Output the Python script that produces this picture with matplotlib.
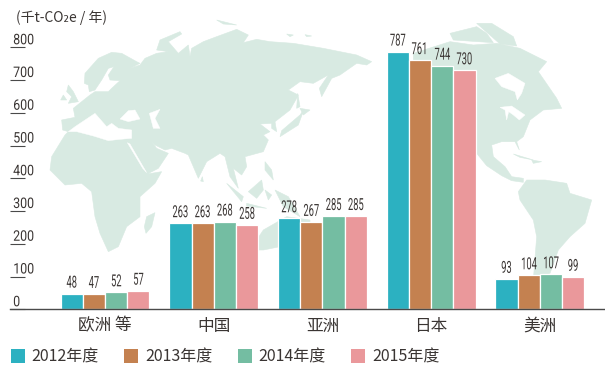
import matplotlib
matplotlib.use("Agg")
import matplotlib.pyplot as plt
from matplotlib.patches import Polygon, Patch
from matplotlib.patheffects import AbstractPathEffect
from matplotlib.transforms import Affine2D
import numpy as np

plt.rcParams['font.family'] = ['Noto Sans CJK SC', 'DejaVu Sans']

categories = ['欧洲 等', '中国', '亚洲', '日本', '美洲']
years = ['2012年度', '2013年度', '2014年度', '2015年度']
v2012 = [48, 263, 278, 787, 93]
v2013 = [47, 263, 267, 761, 104]
v2014 = [52, 268, 285, 744, 107]
v2015 = [57, 258, 285, 730, 99]
y_ticks = [0, 100, 200, 300, 400, 500, 600, 700, 800]
unit_label = '(千t-CO₂e / 年)'
colors = ['#2cb1c1', '#c48150', '#74bda2', '#ea989b']
LAND = '#d8eae2'
INK = '#3a3533'

W, H = 605, 365
fig = plt.figure(figsize=(W / 100, H / 100), dpi=100, facecolor='white')


class Squeeze(AbstractPathEffect):
    """Condense text horizontally (no condensed font is installed)."""
    def __init__(self, sx, pivot='center'):
        super().__init__()
        self.sx, self.pivot = sx, pivot

    def draw_path(self, renderer, gc, tpath, affine, rgbFace=None):
        e = tpath.get_extents()
        px = (e.x0 + e.x1) / 2 if self.pivot == 'center' else e.x0
        t = Affine2D().translate(-px, 0).scale(self.sx, 1).translate(px, 0)
        renderer.draw_path(gc, tpath, t + affine, rgbFace)


# ---- decorative background world map (figure pixel space) ----
bg = fig.add_axes([0, 0, 1, 1], zorder=0)
bg.set_xlim(0, W); bg.set_ylim(H, 0); bg.axis('off')

def z4(p): return [(40 + x / 3, 20 + y / 3) for x, y in p]
def z5(p): return [(200 + x / 3, 20 + y / 3) for x, y in p]
def z6(p): return [(430 + x / 3, 20 + y / 3) for x, y in p]

eurasia_africa = z4([(68,330),(65,300),(105,292),(100,265),(125,245),(150,225),(165,215),(205,215),(215,205),
    (240,182),(210,180),(205,165),(222,140),(205,145),(185,180),(165,210),(148,215),(145,195),(133,190),
    (135,160),(175,115),(215,97),(245,100),(290,125),(300,130),(270,145),(300,135),(315,115),(350,100),
    (385,95),(350,90),(360,60),(420,35),(425,42),(385,65),(415,100),(445,75),(450,110),(455,85),(490,65)]) + \
  z5([(50,50),(110,28),(145,45),(130,68),(170,58),(210,65),(280,70),(370,85),(420,95),(470,105),(515,125),
      (500,135),(470,130),(420,165),(395,175),(365,230),(358,205),(385,165),(340,190),(300,185),(265,210),
      (295,225),(290,235),(270,270),(225,305),(230,335),(215,325),(215,310),(180,312),(210,335),(190,345),
      (205,360),(190,395),(135,410),(140,440),(125,465),(100,445),(115,505),(90,470),(75,410),(60,400)]) + \
  z4([(500,425),(475,475),(445,405),(435,400),(395,385),(375,390),(345,375),(335,365),(350,385),(385,400),
      (355,445),(322,462),(365,455),(345,490),(300,530),(300,590),(260,620),(235,680),(205,695),(180,640),
      (165,590),(155,515),(125,490),(75,495),(30,450),(35,410),(75,345),(85,335)])
north_america = z6([(-50,100),(60,65),(130,75),(200,70),(270,85),(350,125),(325,155),(380,235),(395,265),
    (340,270),(300,300),(280,350),(260,365),(268,390),(255,365),(215,365),(185,375),(190,410),(225,440),
    (245,470),(280,475),(280,487),(245,482),(215,467),(170,437),(140,400),(100,300),(0,200),(-50,150)])
south_america = z6([(265,515),(290,480),(345,480),(410,490),(420,520),(485,540),(465,610),(420,650),(385,690),
    (360,760),(310,780),(320,650),(310,600),(270,540)])
land = [eurasia_africa, north_america, south_america,
    z4([(85,195),(100,215),(115,245),(85,250),(95,230),(80,215)]),
    z4([(70,225),(80,240),(62,240)]),
    z4([(345,578),(335,620),(318,640),(313,620),(320,590)]),
    z4([(487,470),(490,485),(482,483)]),
    z5([(300,285),(245,332),(240,350),(295,315),(312,268)]),
    z5([(300,265),(330,270),(310,285)]),
    z5([(293,220),(300,260),(290,265)]),
    z5([(195,425),(215,450),(220,480),(195,450)]),
    z5([(145,515),(185,480),(190,510),(170,535)]),
    z5([(80,490),(130,530),(125,545)]),
    z5([(140,550),(200,565),(140,558)]),
    z5([(195,510),(215,525),(205,540)]),
    z5([(225,510),(265,530),(300,590),(250,560)]),
    z5([(150,690),(190,630),(260,590),(330,600),(330,700),(240,680),(190,690)]),
    z5([(50,0),(110,15),(70,12)]), z5([(260,42),(280,45),(270,50)]), z5([(315,44),(335,48),(320,50)]),
    z6([(60,40),(140,20),(170,40),(190,68),(70,60)]),
    z6([(140,10),(185,10),(250,50),(260,78),(210,72)]),
    z6([(250,402),(310,420),(270,412)]), z6([(305,420),(335,425),(310,430)]),
]
seas = [
    z4([(85,335),(105,320),(150,290),(165,280),(200,320),(215,310),(235,325),(275,330),(275,355),(240,358),
        (205,362),(160,348),(110,335)]),
    z4([(240,297),(265,272),(285,270),(300,297),(265,305)]),
    z4([(328,280),(360,268),(345,295),(360,325),(340,325)]),
    z4([(262,368),(270,372),(320,458),(308,445)]),
    z6([(195,175),(235,160),(285,190),(275,220),(262,240),(255,215),(215,200)]),
    z6([(210,262),(245,258),(285,285),(268,300),(250,285),(236,275),(230,300),(225,270)]),
]
for p in land:
    bg.add_patch(Polygon(p, closed=True, fc=LAND, ec=LAND, lw=0.4))
for p in seas:
    bg.add_patch(Polygon(p, closed=True, fc='white', ec='white', lw=0.3))

# ---- chart ----
left, right, y0, y800 = 10, 605, 309.3, 47.3
ax = fig.add_axes([left / W, 1 - y0 / H, (right - left) / W, (y0 - y800) / H], zorder=1)
ax.patch.set_alpha(0)
step = 108.7
ax.set_xlim(-(105 - left) / step, (right - 105) / step)
ax.set_ylim(0, 800)

x = np.arange(len(categories))
bw = 22.2 / step
series = [v2012, v2013, v2014, v2015]
for i, (vals, c) in enumerate(zip(series, colors)):
    xs = x + (i - 1.5) * bw
    ax.bar(xs, vals, width=bw, color=c, edgecolor='white', linewidth=0.9, zorder=2)
    for xi, v in zip(xs, vals):
        ax.annotate(str(v), (xi, v), xytext=(0, 4.3), textcoords='offset points', ha='center', va='baseline',
                    fontsize=12, family='Roboto', color=INK, clip_on=False,
                    path_effects=[Squeeze(0.56)])

for s in ['top', 'right', 'left']:
    ax.spines[s].set_visible(False)
ax.spines['bottom'].set_color('#4a4a4a')
ax.spines['bottom'].set_linewidth(1.0)
ax.set_xticks(x, categories, fontsize=12, color=INK)
ax.tick_params(axis='x', length=0, pad=6)
ax.set_yticks(y_ticks)
ax.tick_params(axis='y', direction='in', length=15 * 0.72, width=0.8, color='#4a4a4a', labelleft=False)
for t in y_ticks:
    ax.annotate(str(t), (0, t), xycoords=('axes fraction', 'data'), xytext=(2.2, 2.2), textcoords='offset points',
                ha='left', va='baseline', fontsize=10.5, family='Roboto', color=INK,
                path_effects=[Squeeze(0.85, pivot='left')])

fig.text(16 / W, 1 - 18 / H, unit_label, fontsize=10, color=INK, ha='left', va='center')

handles = [Patch(fc=c, ec='none') for c in colors]
fig.legend(handles, years, loc='lower left', bbox_to_anchor=(11 / W, 1 - 365.5 / H), ncol=4, frameon=False,
           prop={'family': ['Noto Sans CJK SC', 'DejaVu Sans'], 'size': 11.5}, labelcolor=INK,
           handlelength=0.875, handleheight=0.93, handletextpad=0.40, columnspacing=1.62,
           borderpad=0, borderaxespad=0)

fig.savefig('out.png', dpi=100)
